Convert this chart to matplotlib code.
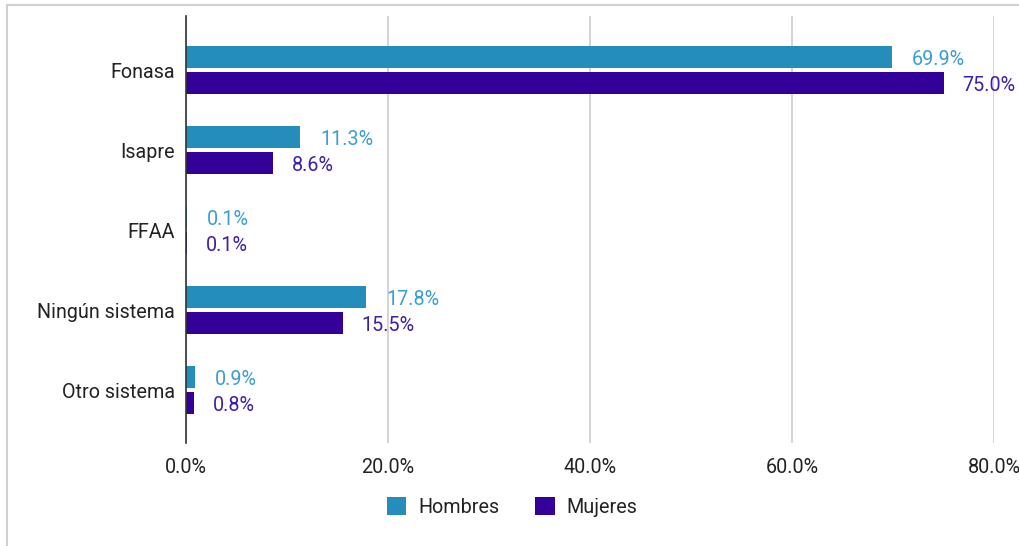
import matplotlib
matplotlib.use("Agg")
import matplotlib.pyplot as plt
from matplotlib.lines import Line2D
from matplotlib.patches import Patch
import numpy as np

categories = ["Fonasa", "Isapre", "FFAA", "Ningún sistema", "Otro sistema"]
hombres = [69.9, 11.3, 0.1, 17.8, 0.9]
mujeres = [75.0, 8.6, 0.1, 15.5, 0.8]
series_names = ["Hombres", "Mujeres"]
xticks = [0, 20, 40, 60, 80]

c_h = "#248dbb"
c_m = "#330099"
lc_h = "#3a9fd1"
lc_m = "#3d1fa8"

plt.rcParams['font.family'] = ['Roboto', 'DejaVu Sans']
FS = 14.2

W, H = 1019, 546
fig = plt.figure(figsize=(W/100, H/100), dpi=100)
ax_l, ax_r = 186, 994
ax_t, ax_b = 16, 443
ax = fig.add_axes([ax_l/W, 1-ax_b/H, (ax_r-ax_l)/W, (ax_b-ax_t)/H])

y = np.arange(len(categories))
bh = 0.275
off = 0.1625
ax.barh(y - off, hombres, height=bh, color=c_h, zorder=3)
ax.barh(y + off, mujeres, height=bh, color=c_m, zorder=3)

dy = 0.025
for yi, v in zip(y, hombres):
    ax.text(v + 2.0, yi - off + dy, f"{v:.1f}%", color=lc_h, fontsize=FS, va='center', ha='left', clip_on=False)
for yi, v in zip(y, mujeres):
    ax.text(v + 1.9, yi + off + dy, f"{v:.1f}%", color=lc_m, fontsize=FS, va='center', ha='left', clip_on=False)

ax.set_xlim(0, 80)
ax.set_ylim(4.66, -0.675)
ax.set_yticks(y)
ax.set_yticklabels(categories, fontsize=FS, color="#222222")
ax.set_xticks(xticks)
ax.set_xticklabels([f"{t:.1f}%" for t in xticks], fontsize=FS, color="#222222")
ax.tick_params(axis='both', length=0)
ax.tick_params(axis='y', pad=8)
ax.tick_params(axis='x', pad=11)
ax.xaxis.grid(True, color="#cccccc", linewidth=1.2, zorder=0)
ax.set_axisbelow(True)
for s in ["top", "right", "bottom"]:
    ax.spines[s].set_visible(False)
ax.spines["left"].set_color("#333333")
ax.spines["left"].set_linewidth(1.2)
ax.spines["left"].set_zorder(4)

handles = [Patch(facecolor=c_h, label=series_names[0]), Patch(facecolor=c_m, label=series_names[1])]
fig.legend(handles=handles, loc='center', bbox_to_anchor=(512/W, 1-507/H), ncol=2, frameon=False,
           fontsize=FS, handlelength=1.0, handleheight=1.0, columnspacing=1.8, handletextpad=0.6,
           labelcolor="#222222")

# figure border (top and left)
fig.add_artist(Line2D([7/W, 1], [1-5/H, 1-5/H], color="#d0d0d0", linewidth=1.5, transform=fig.transFigure))
fig.add_artist(Line2D([7/W, 7/W], [0, 1-5/H], color="#d0d0d0", linewidth=1.5, transform=fig.transFigure))

fig.savefig("out.png", dpi=100, facecolor="white")
